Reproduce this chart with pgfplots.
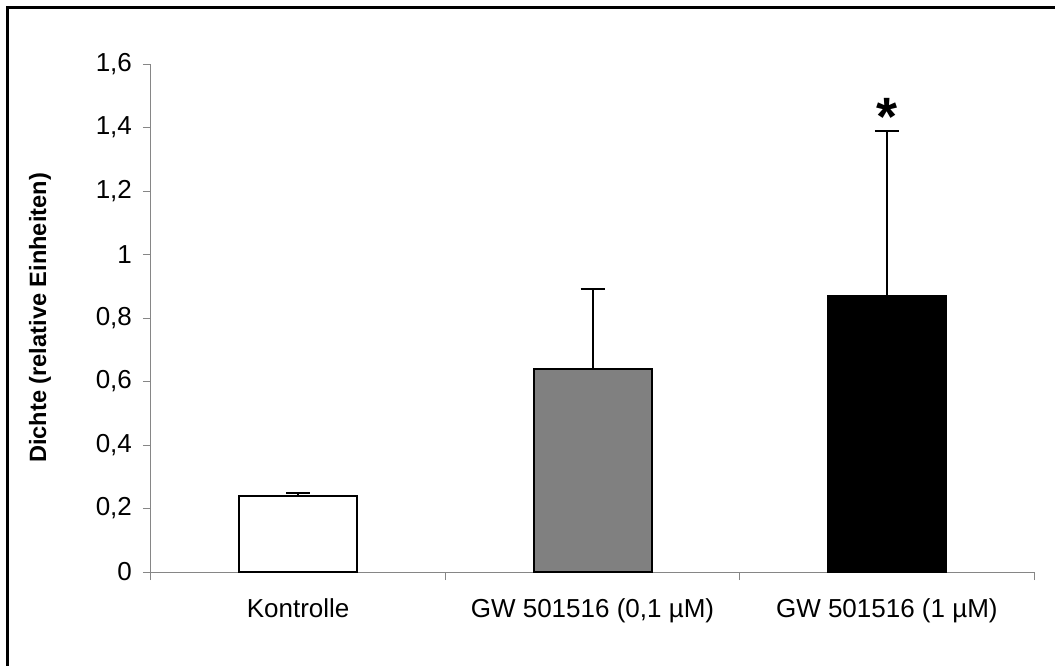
\documentclass[border=0pt]{standalone}
\usepackage{pgfplots}
\pgfplotsset{compat=1.18}
\usepackage{fontspec}
\setmainfont{Liberation Sans}
\definecolor{axisgray}{HTML}{868686}
\definecolor{midgray}{HTML}{808080}
\begin{document}
\begin{tikzpicture}
% page size: 1055x666 px at 0.5pt per px, axis box 883x508 px
\path[use as bounding box] (-75.5pt,-47pt) rectangle (452pt,286pt);
\draw[line width=1.5pt] (452pt,282.5pt) -- (-71.5pt,282.5pt) -- (-71.5pt,-47pt);
\begin{axis}[
    at={(0,0)}, anchor=south west,
    scale only axis,
    width=441.5pt, height=254pt,
    xmin=-0.5, xmax=2.5,
    ymin=0, ymax=1.6,
    axis lines=left,
    axis line style={-, draw=axisgray, line width=0.5pt},
    xtick={0,1,2},
    xticklabels={Kontrolle, {GW 501516 (0,1 µM)}, {GW 501516 (1 µM)}},
    major x tick style={draw=none},
    minor xtick={-0.5,0.5,1.5,2.5},
    minor x tick style={draw=axisgray, line width=0.5pt},
    ytick={0,0.2,0.4,0.6,0.8,1,1.2,1.4,1.6},
    yticklabels={0,{0,2},{0,4},{0,6},{0,8},1,{1,2},{1,4},{1,6}},
    y tick style={draw=axisgray, line width=0.5pt},
    tick align=outside,
    major tick length=4pt, minor tick length=4pt,
    ticklabel style={font=\fontsize{13}{15}\selectfont},
    xticklabel style={yshift=-6pt},
    yticklabel style={xshift=-2pt},
    ylabel={\bfseries Dichte (relative Einheiten)},
    ylabel style={font=\fontsize{11.8}{14}\selectfont, at={(axis description cs:-0.1257,0.5)}, anchor=center},
    ybar, bar width=59pt, bar shift=0pt,
    clip=false,
]
\addplot[fill=white, draw=black, line width=1pt,
    error bars/.cd, y dir=plus, y explicit,
    error bar style={black, line width=1pt},
    error mark options={rotate=90, mark size=6pt, line width=1pt}]
    coordinates {(0,0.24) +- (0,0.01)};
\addplot[fill=midgray, draw=black, line width=1pt,
    error bars/.cd, y dir=plus, y explicit,
    error bar style={black, line width=1pt},
    error mark options={rotate=90, mark size=6pt, line width=1pt}]
    coordinates {(1,0.64) +- (0,0.25)};
\addplot[fill=black, draw=black, line width=1pt,
    error bars/.cd, y dir=plus, y explicit,
    error bar style={black, line width=1pt},
    error mark options={rotate=90, mark size=6pt, line width=1pt}]
    coordinates {(2,0.87) +- (0,0.52)};
\node[font=\fontsize{27}{29}\selectfont\bfseries] at (axis cs:2,1.432) {*};
\end{axis}
\end{tikzpicture}
\end{document}
